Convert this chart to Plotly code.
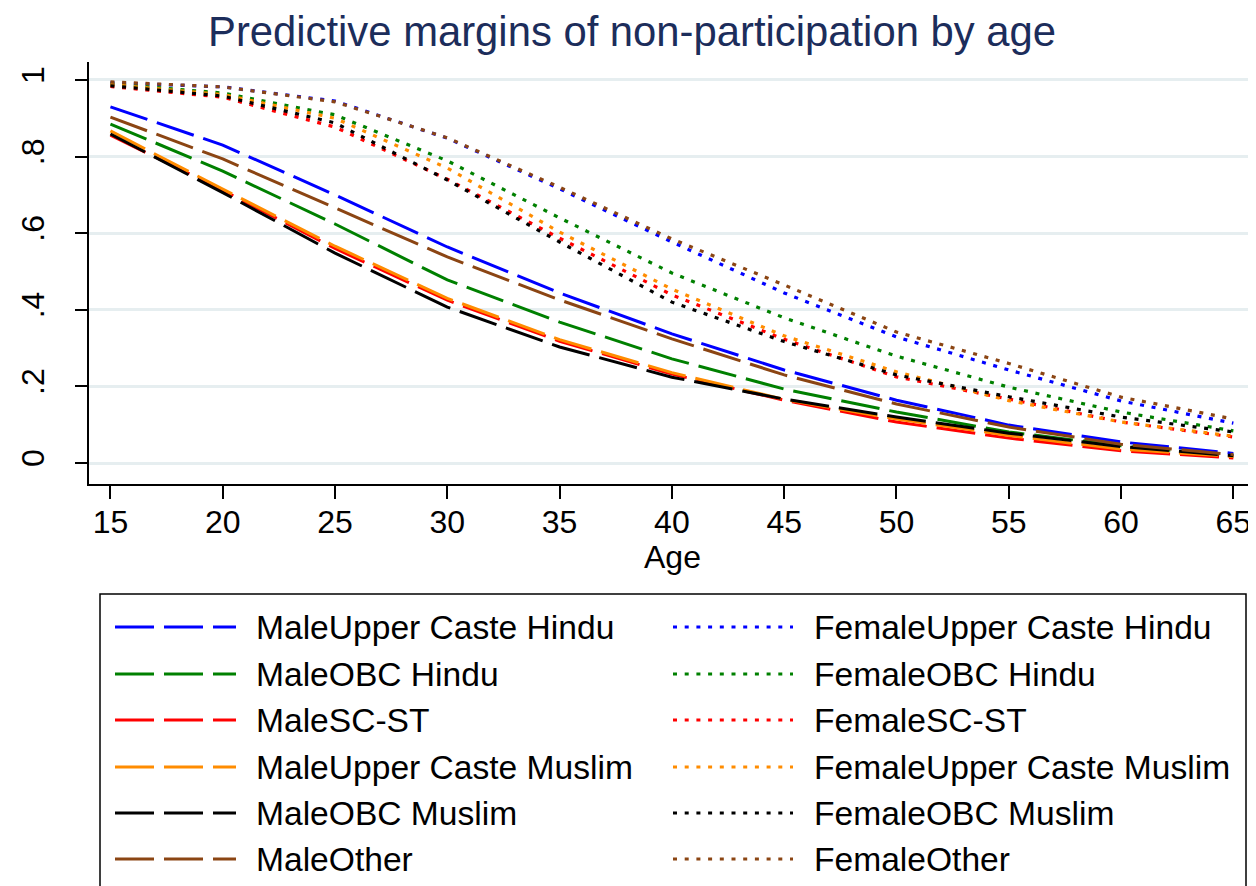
import plotly.graph_objects as go

ages = [15, 20, 25, 30, 35, 40, 45, 50, 55, 60, 65]

male_uc_hindu = [0.930, 0.830, 0.700, 0.564, 0.444, 0.337, 0.243, 0.164, 0.099, 0.055, 0.025]
male_obc_hindu = [0.885, 0.762, 0.624, 0.478, 0.368, 0.272, 0.193, 0.133, 0.081, 0.045, 0.019]
male_sc_st = [0.856, 0.712, 0.560, 0.425, 0.318, 0.232, 0.164, 0.107, 0.065, 0.032, 0.013]
male_uc_muslim = [0.867, 0.715, 0.566, 0.430, 0.322, 0.236, 0.166, 0.115, 0.072, 0.036, 0.017]
male_obc_muslim = [0.859, 0.706, 0.548, 0.407, 0.303, 0.224, 0.167, 0.120, 0.078, 0.043, 0.019]
male_other = [0.903, 0.794, 0.666, 0.538, 0.426, 0.324, 0.230, 0.154, 0.094, 0.049, 0.022]

female_uc_hindu = [0.993, 0.982, 0.945, 0.848, 0.716, 0.577, 0.444, 0.329, 0.243, 0.162, 0.104]
female_obc_hindu = [0.990, 0.966, 0.909, 0.789, 0.640, 0.496, 0.379, 0.279, 0.198, 0.133, 0.084]
female_sc_st = [0.983, 0.955, 0.877, 0.741, 0.587, 0.439, 0.323, 0.225, 0.167, 0.107, 0.068]
female_uc_muslim = [0.988, 0.962, 0.900, 0.770, 0.603, 0.454, 0.332, 0.238, 0.163, 0.107, 0.070]
female_obc_muslim = [0.985, 0.958, 0.888, 0.739, 0.577, 0.420, 0.317, 0.230, 0.173, 0.120, 0.081]
female_other = [0.995, 0.982, 0.943, 0.849, 0.720, 0.585, 0.465, 0.342, 0.260, 0.172, 0.115]

group_names = ["Upper Caste Hindu", "OBC Hindu", "SC-ST", "Upper Caste Muslim", "OBC Muslim", "Other"]
colors = ["#0000FF", "#008000", "#FF0000", "#FF8C00", "#000000", "#8B4513"]
male_series = [male_uc_hindu, male_obc_hindu, male_sc_st, male_uc_muslim, male_obc_muslim, male_other]
female_series = [female_uc_hindu, female_obc_hindu, female_sc_st, female_uc_muslim, female_obc_muslim, female_other]

y_tickvals = [0, 0.2, 0.4, 0.6, 0.8, 1.0]
y_ticktext = ["0", ".2", ".4", ".6", ".8", "1"]
x_tickvals = [15, 20, 25, 30, 35, 40, 45, 50, 55, 60, 65]

FONT = "Liberation Sans, Arial, Helvetica, sans-serif"
OFF = 8  # page body margin offset
W, H = 1256 - OFF, 886 - OFF
L, R, T, B = 89 - OFF, 1256 - OFF, 62 - OFF, 484 - OFF
DASH = "39px,10px"
DOT = "4px,7.7px"

fig = go.Figure()
for name, col, vals in zip(group_names, colors, male_series):
    fig.add_trace(go.Scatter(x=ages, y=vals, mode="lines", name="Male" + name,
                             line=dict(color=col, width=3, dash=DASH), showlegend=False))
for name, col, vals in zip(group_names, colors, female_series):
    fig.add_trace(go.Scatter(x=ages, y=vals, mode="lines", name="Female" + name,
                             line=dict(color=col, width=3.2, dash=DOT), showlegend=False))


def px_x(px):
    """page pixel -> paper x"""
    return (px - OFF - L) / (R - L)


def px_y(py):
    """page pixel -> paper y"""
    return (B - (py - OFF)) / (B - T)


shapes = []
annotations = []
shapes.append(dict(type="rect", xref="paper", yref="paper",
                   x0=px_x(100), x1=px_x(1246), y0=px_y(905), y1=px_y(594),
                   line=dict(color="#000000", width=1.5), fillcolor="white", layer="above"))
row_y = [627, 674, 720, 767, 813, 859]
for i, (name, col) in enumerate(zip(group_names, colors)):
    yy = px_y(row_y[i])
    shapes.append(dict(type="line", xref="paper", yref="paper", x0=px_x(115), x1=px_x(236),
                       y0=yy, y1=yy, line=dict(color=col, width=3, dash=DASH), layer="above"))
    annotations.append(dict(xref="paper", yref="paper", x=px_x(254), y=yy, text="Male" + name,
                            showarrow=False, xanchor="left", yanchor="middle",
                            font=dict(family=FONT, size=33.6, color="black")))
    shapes.append(dict(type="line", xref="paper", yref="paper", x0=px_x(673), x1=px_x(793),
                       y0=yy, y1=yy, line=dict(color=col, width=3, dash=DOT), layer="above"))
    annotations.append(dict(xref="paper", yref="paper", x=px_x(812), y=yy, text="Female" + name,
                            showarrow=False, xanchor="left", yanchor="middle",
                            font=dict(family=FONT, size=33.6, color="black")))

annotations.append(dict(xref="paper", yref="paper", x=px_x(672), y=px_y(557), text="Age",
                        showarrow=False, xanchor="center", yanchor="middle",
                        font=dict(family=FONT, size=32, color="black")))

y0v = -21 / 383.3
y1v = (463.3 - 62) / 383.3
x0v = 15 - (110.5 - 89) / 22.52
x1v = 65 + (1256 - 1233.3) / 22.52

fig.update_layout(
    width=W, height=H,
    margin=dict(l=L, r=W - R, t=T, b=H - B, autoexpand=False),
    paper_bgcolor="white", plot_bgcolor="white",
    title=dict(text="Predictive margins of non-participation by age",
               x=(632 - OFF) / W, xanchor="center", y=1 - (31 - OFF) / H, yanchor="middle",
               yref="container", xref="container",
               font=dict(family=FONT, size=41.8, color="#1c2d5b")),
    xaxis=dict(range=[x0v, x1v], tickvals=x_tickvals, ticks="outside", ticklen=13, tickwidth=1.5,
               tickcolor="black", showline=True, linecolor="black", linewidth=1.5,
               showgrid=False, zeroline=False, ticklabelstandoff=-4,
               tickfont=dict(family=FONT, size=32, color="black")),
    yaxis=dict(range=[y0v, y1v], tickvals=y_tickvals, ticktext=y_ticktext, tickangle=-90,
               ticks="outside", ticklen=12, tickwidth=1.5, tickcolor="black",
               showline=True, linecolor="black", linewidth=1.5, ticklabelstandoff=18,
               showgrid=True, gridcolor="#e6eef0", gridwidth=2.5, zeroline=False,
               tickfont=dict(family=FONT, size=32, color="black")),
    shapes=shapes, annotations=annotations,
)

fig.write_html("out.html")
